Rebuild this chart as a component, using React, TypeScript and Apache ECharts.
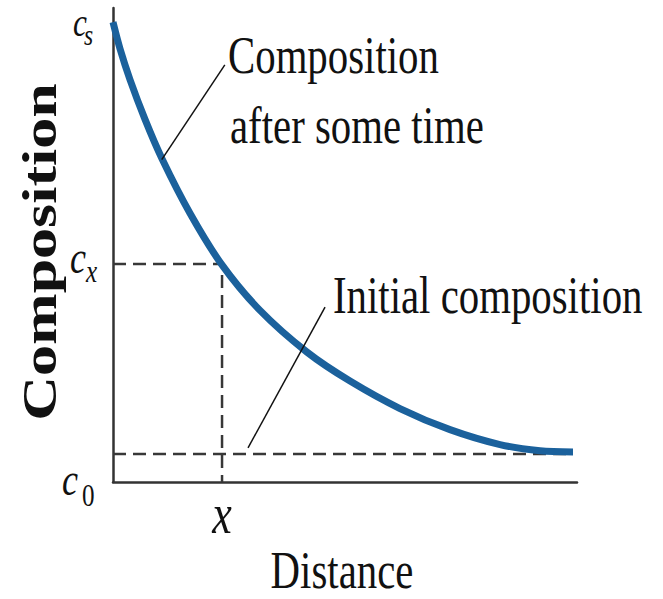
import React, { useEffect, useRef } from "react";
import * as echarts from "echarts";

// Curve: composition after some time vs distance (arbitrary units 0..100)
const distance = [0, 1.51, 3.66, 6.9, 10.56, 16.59, 23.49, 31.68, 41.81, 51.08, 61.85, 72.63, 83.41, 92.03, 99.14];
const composition = [97.0, 91.4, 84.9, 76.5, 68.2, 56.7, 45.8, 36.2, 27.4, 21.3, 15.5, 11.05, 7.9, 6.6, 6.35];

// Reference levels
const initialComposition = 5.9; // c0
const pointX = 23.5; // x
const pointCx = 46.0; // cx
const endX = 99.1;

// Leader lines (data coords): [start, end]
const leaderAfterTime = [[24.1, 88.0], [10.5, 68.0]];
const leaderInitial = [[45.7, 36.9], [29.1, 7.2]];

const SERIF = "'Liberation Serif', 'Times New Roman', serif";
const SX = 0.785;

export default function App() {
  const ref = useRef<HTMLDivElement>(null);
  useEffect(() => {
    document.body.style.margin = "0";
    const chart = echarts.init(ref.current!, undefined, { renderer: "svg" });
    const dashStyle = { color: "#383838", width: 2.5, type: [13, 7] as any };
    const txt = (text: string, x: number, y: number, size: number, extra: any = {}) => ({
      type: "text",
      x,
      y,
      scaleX: extra.scaleX ?? SX,
      scaleY: extra.scaleY ?? 1,
      rotation: extra.rotation ?? 0,
      style: {
        text,
        font: `${extra.style ?? "normal"} ${extra.weight ?? "normal"} ${size}px ${SERIF}`,
        fill: "#111",
        align: extra.align ?? "left",
        verticalAlign: "middle",
        lineHeight: Math.round(size * 0.8),
      },
    });
    chart.setOption({
      animation: false,
      grid: { left: 113, top: 8, right: 86, bottom: 117 },
      xAxis: {
        type: "value",
        min: 0,
        max: 100,
        axisLine: { show: true, lineStyle: { color: "#333", width: 2.5 } },
        axisTick: { show: false },
        axisLabel: { show: false },
        splitLine: { show: false },
      },
      yAxis: {
        type: "value",
        min: 0,
        max: 100,
        axisLine: { show: true, lineStyle: { color: "#333", width: 2.5 } },
        axisTick: { show: false },
        axisLabel: { show: false },
        splitLine: { show: false },
      },
      series: [
        {
          type: "line",
          data: [[0, initialComposition], [endX, initialComposition]],
          symbol: "none",
          lineStyle: dashStyle,
          silent: true,
        },
        {
          type: "line",
          data: [[0, pointCx], [pointX, pointCx], [pointX, 0]],
          symbol: "none",
          lineStyle: dashStyle,
          silent: true,
        },
        {
          type: "line",
          data: distance.map((d, i) => [d, composition[i]]),
          symbol: "none",
          smooth: 0.3,
          lineStyle: { color: "#1b619c", width: 7 },
          silent: true,
        },
        {
          type: "line",
          data: leaderAfterTime,
          symbol: "none",
          lineStyle: { color: "#111", width: 1.5 },
          silent: true,
        },
        {
          type: "line",
          data: leaderInitial,
          symbol: "none",
          lineStyle: { color: "#111", width: 1.5 },
          silent: true,
        },
      ],
      graphic: [
        txt("Composition", 228, 55, 52),
        txt("after some time", 230, 125, 52),
        txt("Initial composition", 333, 295, 52),
        txt("Distance", 342, 570, 52, { align: "center" }),
        txt("x", 222, 514, 56, { align: "center", style: "italic" }),
        txt("c", 73, 23, 40, { style: "italic" }),
        txt("s", 84, 35, 30, { style: "italic" }),
        txt("c", 70, 257.5, 46, { style: "italic" }),
        txt("x", 86, 271, 32, { style: "italic" }),
        txt("c", 62, 479.5, 46, { style: "italic" }),
        txt("0", 82, 495, 32, {}),
        txt("Composition", 39, 252, 62, {
          align: "center",
          weight: "bold",
          rotation: Math.PI / 2,
          scaleX: 1,
          scaleY: SX,
        }),
      ],
    });
    return () => chart.dispose();
  }, []);
  return <div ref={ref} style={{ width: 663, height: 599 }} />;
}
